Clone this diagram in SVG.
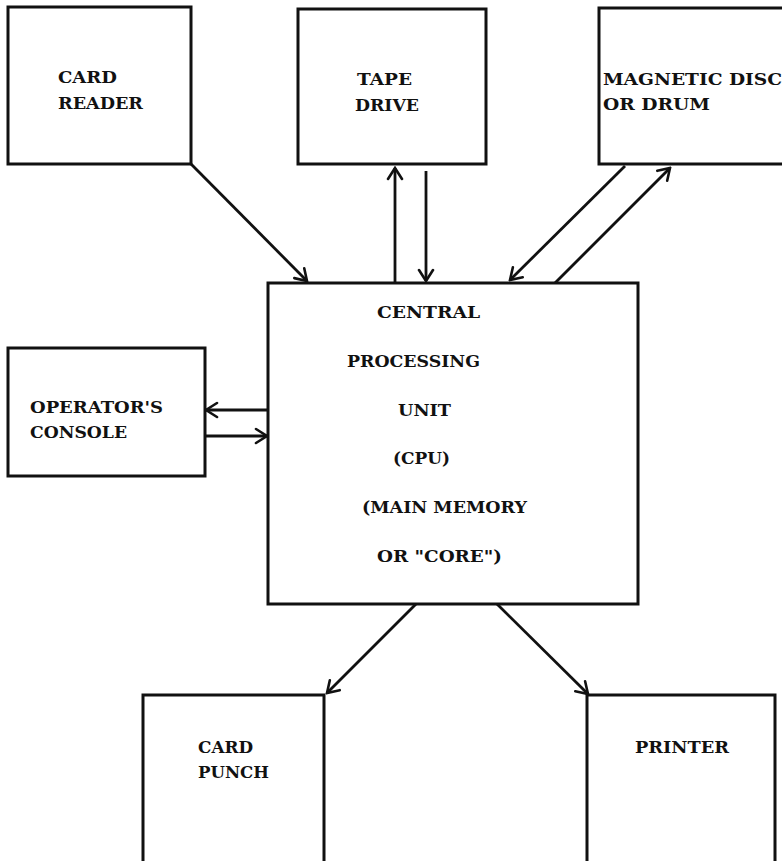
<svg xmlns="http://www.w3.org/2000/svg" width="782" height="861" viewBox="0 0 782 861">
<style>
.box{fill:#fff;stroke:#111;stroke-width:3}
.lbl{font-family:"DejaVu Serif","Liberation Serif",serif;font-weight:bold;font-size:17px;fill:#111}
.con{stroke:#111;stroke-width:2.8;fill:none;marker-end:url(#ah)}
</style>
<defs>
<marker id="ah" markerUnits="userSpaceOnUse" viewBox="-14 -10 16 20" refX="0" refY="0" markerWidth="16" markerHeight="20" orient="auto">
<path d="M-11,-7 L0,0 L-11,7" fill="none" stroke="#111" stroke-width="2.6" stroke-linecap="round"/>
</marker>
</defs>
<rect width="782" height="861" fill="#fff"/>
<g id="card-reader">
<rect class="box" x="8" y="7" width="183" height="157"/>
<text class="lbl" x="58" y="83" textLength="59" lengthAdjust="spacingAndGlyphs">CARD</text>
<text class="lbl" x="58" y="109" textLength="85" lengthAdjust="spacingAndGlyphs">READER</text>
</g>
<g id="tape-drive">
<rect class="box" x="298" y="9" width="188" height="155"/>
<text class="lbl" x="357" y="85" textLength="55" lengthAdjust="spacingAndGlyphs">TAPE</text>
<text class="lbl" x="355" y="111" textLength="64" lengthAdjust="spacingAndGlyphs">DRIVE</text>
</g>
<g id="magnetic-disc">
<rect class="box" x="599" y="8" width="200" height="156"/>
<text class="lbl" x="603" y="85" textLength="179" lengthAdjust="spacingAndGlyphs">MAGNETIC DISC</text>
<text class="lbl" x="603" y="110" textLength="107" lengthAdjust="spacingAndGlyphs">OR DRUM</text>
</g>
<g id="cpu">
<rect class="box" x="268" y="283" width="370" height="321"/>
<text class="lbl" x="377" y="318" textLength="103" lengthAdjust="spacingAndGlyphs">CENTRAL</text>
<text class="lbl" x="347" y="367" textLength="133" lengthAdjust="spacingAndGlyphs">PROCESSING</text>
<text class="lbl" x="398" y="416" textLength="53" lengthAdjust="spacingAndGlyphs">UNIT</text>
<text class="lbl" x="393" y="464" textLength="57" lengthAdjust="spacingAndGlyphs">(CPU)</text>
<text class="lbl" x="362" y="513" textLength="165" lengthAdjust="spacingAndGlyphs">(MAIN MEMORY</text>
<text class="lbl" x="377" y="562" textLength="125" lengthAdjust="spacingAndGlyphs">OR "CORE")</text>
</g>
<g id="operators-console">
<rect class="box" x="8" y="348" width="197" height="128"/>
<text class="lbl" x="30" y="413" textLength="133" lengthAdjust="spacingAndGlyphs">OPERATOR'S</text>
<text class="lbl" x="30" y="438" textLength="97" lengthAdjust="spacingAndGlyphs">CONSOLE</text>
</g>
<g id="card-punch">
<rect class="box" x="143" y="695" width="181" height="180"/>
<text class="lbl" x="198" y="753" textLength="55" lengthAdjust="spacingAndGlyphs">CARD</text>
<text class="lbl" x="198" y="778" textLength="71" lengthAdjust="spacingAndGlyphs">PUNCH</text>
</g>
<g id="printer">
<rect class="box" x="587" y="695" width="188" height="180"/>
<text class="lbl" x="635" y="753" textLength="94" lengthAdjust="spacingAndGlyphs">PRINTER</text>
</g>
<g id="connectors">
<line class="con" x1="191" y1="164" x2="307" y2="281"/>
<line class="con" x1="395" y1="283" x2="395" y2="168"/>
<line class="con" x1="426" y1="171" x2="426" y2="281"/>
<line class="con" x1="625" y1="166" x2="510" y2="280"/>
<line class="con" x1="555" y1="283" x2="670" y2="168"/>
<line class="con" x1="268" y1="410" x2="206" y2="410"/>
<line class="con" x1="206" y1="436" x2="267" y2="436"/>
<line class="con" x1="416" y1="604" x2="327" y2="693"/>
<line class="con" x1="497" y1="604" x2="588" y2="694"/>
</g>
</svg>
